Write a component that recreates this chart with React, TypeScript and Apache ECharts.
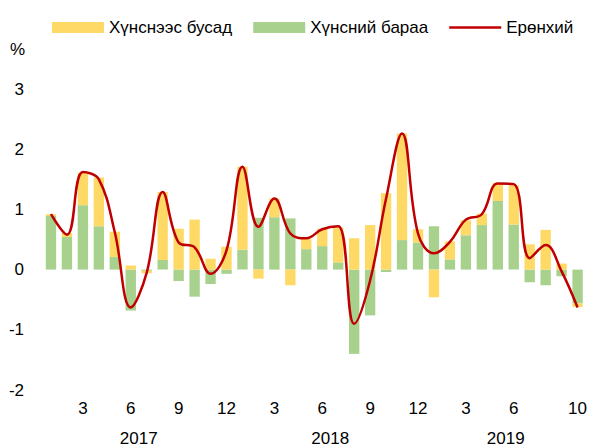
import React, { useEffect, useRef } from "react";
import * as echarts from "echarts";

const years = ["2017", "2018", "2019"];
const monthsPerYear = [12, 12, 10];

// month labels shown under the axis (blank = hidden)
const tickLabels = [
  "", "", "3", "", "", "6", "", "", "9", "", "", "12",
  "", "", "3", "", "", "6", "", "", "9", "", "", "12",
  "", "", "3", "", "", "6", "", "", "", "10",
];

const seriesNames = ["Хүнснээс бусад", "Хүнсний бараа", "Ерөнхий"];

const foodGoods = [
  0.89, 0.54, 1.07, 0.72, 0.21, -0.68, -0.02, 0.16, -0.19, -0.45, -0.24, -0.07,
  0.33, 0.86, 0.87, 0.85, 0.34, 0.39, 0.12, -1.4, -0.76, -0.04, 0.49, 0.45,
  0.72, 0.17, 0.57, 0.74, 1.14, 0.75, -0.21, -0.26, -0.11, -0.56,
];

const nonFood = [
  0.03, 0.07, 0.54, 0.81, 0.42, 0.07, -0.04, 1.13, 0.68, 0.83, 0.18, 0.38,
  1.38, -0.15, 0.31, -0.26, 0.17, 0.29, 0.58, 0.52, 0.74, 1.27, 1.77, 0.22,
  -0.46, 0.3, 0.25, 0.19, 0.3, 0.65, 0.42, 0.66, 0.1, -0.06,
];

const total = [
  0.92, 0.58, 1.62, 1.5, 0.62, -0.63, -0.05, 1.29, 0.45, 0.37, -0.07, 0.32,
  1.71, 0.71, 1.18, 0.6, 0.52, 0.67, 0.72, -0.9, -0.18, 1.18, 2.26, 0.6,
  0.27, 0.46, 0.83, 0.92, 1.43, 1.42, 0.19, 0.41, -0.03, -0.63,
];

const yTicks = { min: -2, max: 3, interval: 1 };

const FONT = "'Liberation Sans', Arial, sans-serif";
const FS = 17;

export default function App() {
  const ref = useRef<HTMLDivElement>(null);

  useEffect(() => {
    document.body.style.margin = "0";
    if (!ref.current) return;
    const chart = echarts.init(ref.current, null, { renderer: "svg" });

    const categories = tickLabels.map((_, i) => String(i));
    const nMonths = categories.length;
    // year label centers (in month units) computed from month counts
    const yearCenters: number[] = [];
    let start = 0;
    monthsPerYear.forEach((m) => {
      yearCenters.push(start + m / 2);
      start += m;
    });

    chart.setOption({
      animation: false,
      textStyle: { fontFamily: FONT },
      legend: {
        data: [
          { name: seriesNames[0], icon: "rect" },
          { name: seriesNames[1], icon: "rect" },
          {
            name: seriesNames[2],
            icon: "path://M0 0H52V2.5H0Z",
            itemStyle: { color: "#C00000" },
          },
        ],
        left: 47,
        top: 14,
        itemWidth: 52,
        itemHeight: 11,
        itemGap: 21,
        textStyle: { fontSize: FS, color: "#000", fontFamily: FONT },
      },
      grid: { left: 43, right: 3, top: 89, bottom: 58 },
      xAxis: [
        {
          type: "category",
          data: categories,
          axisLine: { show: false },
          axisTick: { show: false },
          axisLabel: {
            interval: 0,
            margin: 10,
            fontSize: FS,
            color: "#000",
            fontFamily: FONT,
            formatter: (_v: string, i: number) => tickLabels[i],
          },
        },
        {
          type: "value",
          min: 0,
          max: nMonths,
          position: "bottom",
          offset: 30,
          axisLine: { show: false },
          axisTick: { show: false },
          splitLine: { show: false },
          axisLabel: {
            customValues: yearCenters,
            margin: 10,
            fontSize: FS,
            color: "#000",
            fontFamily: FONT,
            formatter: (v: number) => {
              const idx = yearCenters.indexOf(v);
              return idx >= 0 ? years[idx] : "";
            },
          },
        },
      ],
      yAxis: {
        type: "value",
        min: yTicks.min,
        max: yTicks.max,
        interval: yTicks.interval,
        axisLine: { show: false },
        axisTick: { show: false },
        splitLine: { show: false },
        axisLabel: { margin: 19, fontSize: FS, color: "#000", fontFamily: FONT },
      },
      graphic: [
        {
          type: "text",
          left: 10,
          top: 41,
          style: { text: "%", font: `${FS}px ${FONT}`, fill: "#000" },
        },
      ],
      series: [
        {
          name: seriesNames[1],
          type: "bar",
          stack: "cpi",
          data: foodGoods,
          barWidth: "65%",
          itemStyle: { color: "#A9D18E" },
        },
        {
          name: seriesNames[0],
          type: "bar",
          stack: "cpi",
          data: nonFood,
          barWidth: "65%",
          itemStyle: { color: "#FFD966" },
        },
        {
          name: seriesNames[2],
          type: "line",
          data: total,
          smooth: 0.4,
          symbol: "none",
          lineStyle: { color: "#C00000", width: 2.5 },
          itemStyle: { color: "#C00000" },
          z: 5,
        },
      ],
    });

    return () => chart.dispose();
  }, []);

  return <div ref={ref} style={{ width: 590, height: 448 }} />;
}
